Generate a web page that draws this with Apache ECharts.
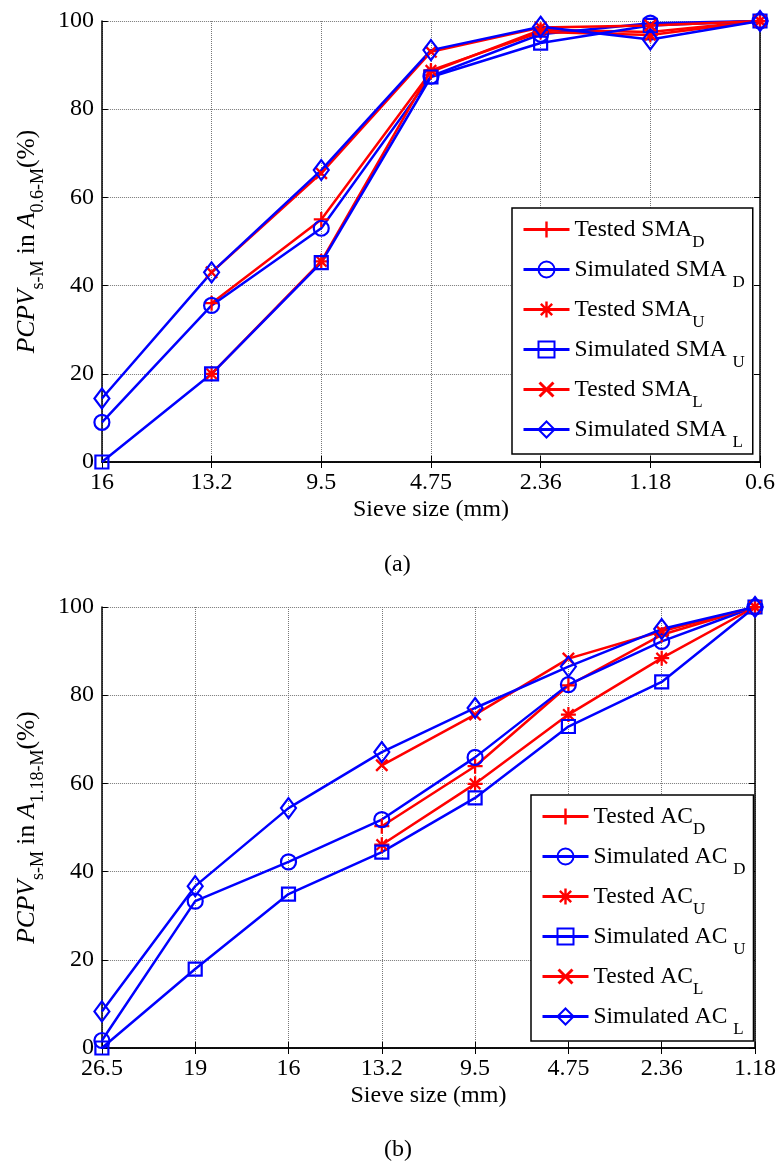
<!DOCTYPE html>
<html>
<head>
<meta charset="utf-8">
<script src="https://cdn.jsdelivr.net/npm/echarts@6/dist/echarts.min.js"></script>
<style>
  html, body { margin: 0; padding: 0; background: #fff; }
  #chart { width: 779px; height: 1165px; }
</style>
</head>
<body>
<div id="chart"></div>
<script>
// sieve sizes (x categories)
const sizesSMA = ['16', '13.2', '9.5', '4.75', '2.36', '1.18', '0.6'];
const sizesAC = ['26.5', '19', '16', '13.2', '9.5', '4.75', '2.36', '1.18'];
const yTicks = [0, 20, 40, 60, 80, 100];

// (a) SMA, PCPV in A0.6-M (%)
const smaTestedD = [null, 36, 55, 88.5, 98, 97.5, 100];
const smaSimD = [9, 35.5, 53, 87.5, 97, 99.5, 100];
const smaTestedU = [null, 20, 45.5, 88.8, 97.5, 96.8, 100];
const smaSimU = [0, 20, 45.2, 87.3, 95, 99, 100];
const smaTestedL = [null, 43, 65.5, 93, 98.5, 99, 100];
const smaSimL = [14.4, 43, 66.2, 93.4, 98.7, 95.8, 100];

// (b) AC, PCPV in A1.18-M (%)
const acTestedD = [null, null, null, 50.3, 63.9, 82.2, 93.7, 100];
const acSimD = [1.7, 33.3, 42.2, 51.8, 65.9, 82.4, 92.2, 100];
const acTestedU = [null, null, null, 46.1, 59.9, 75.6, 88.4, 100];
const acSimU = [0, 17.9, 34.9, 44.4, 56.7, 72.9, 83.0, 100];
const acTestedL = [null, null, null, 64.1, 75.6, 88.3, 94.5, 100];
const acSimL = [8.3, 36.7, 54.4, 67.1, 77.1, 86.5, 95.0, 100];

const FONT = '"Liberation Serif", "Times New Roman", serif';
const RED = '#ff0000';
const BLUE = '#0000ff';

// marker shapes (MATLAB style + * x)
const PLUS = 'path://M-1.5,-10L1.5,-10L1.5,10L-1.5,10ZM-10,-1.5L10,-1.5L10,1.5L-10,1.5Z';
const CROSS = 'path://M8.13,6.01L6.01,8.13L-8.13,-6.01L-6.01,-8.13ZM6.01,-8.13L8.13,-6.01L-6.01,8.13L-8.13,6.01Z';
const STAR = PLUS + 'M8.13,6.01L6.01,8.13L-8.13,-6.01L-6.01,-8.13ZM6.01,-8.13L8.13,-6.01L-6.01,8.13L-8.13,6.01Z';

const subStyle = { fontSize: 17, lineHeight: 10, padding: [26, 0, 0, 0], fontFamily: FONT, color: '#000' };
const mainStyle = { fontSize: 23.5, lineHeight: 20, fontFamily: FONT, color: '#000' };

function legendName(name) {
    const parts = name.split('_');
    const gap = parts[0].indexOf('Simulated') === 0 ? ' ' : '';
    return '{m|' + parts[0] + gap + '}{sub|' + parts[1] + '}';
}

// hollow markers: transparent fill, coloured border
function mkSeries(name, data, color, symbol, size, gi, hollow) {
    return {
        name: name,
        type: 'line',
        xAxisIndex: gi * 2,
        yAxisIndex: gi * 2,
        data: data,
        symbol: symbol,
        symbolSize: size,
        connectNulls: false,
        lineStyle: { color: color, width: 2.5 },
        itemStyle: hollow
            ? { color: 'rgba(0,0,0,0)', borderColor: color, borderWidth: 2.2 }
            : { color: color },
        emphasis: { disabled: true },
        animation: false
    };
}

function xAxes(cats, gi) {
    const base = {
        type: 'category',
        gridIndex: gi,
        data: cats,
        boundaryGap: false,
        axisLine: { lineStyle: { color: '#000', width: 1.5 } },
        axisTick: { inside: true, length: 6, lineStyle: { color: '#000' } }
    };
    return [
        Object.assign({}, base, {
            position: 'bottom',
            axisLabel: { color: '#000', fontFamily: FONT, fontSize: 24, margin: 9 },
            splitLine: { show: true, lineStyle: { color: '#777', type: 'dotted', width: 1 } },
            name: 'Sieve size (mm)',
            nameLocation: 'middle',
            nameGap: 36,
            nameTextStyle: { color: '#000', fontFamily: FONT, fontSize: 24 }
        }),
        Object.assign({}, base, {
            position: 'top',
            axisLabel: { show: false },
            splitLine: { show: false }
        })
    ];
}

function yAxes(label, gi) {
    const base = {
        type: 'value',
        gridIndex: gi,
        min: yTicks[0],
        max: yTicks[yTicks.length - 1],
        interval: 20,
        axisLine: { show: true, lineStyle: { color: '#000', width: 1.5 } },
        axisTick: { show: true, inside: true, length: 6, lineStyle: { color: '#000' } }
    };
    return [
        Object.assign({}, base, {
            position: 'left',
            axisLabel: { color: '#000', fontFamily: FONT, fontSize: 24, margin: 8 },
            splitLine: { show: true, lineStyle: { color: '#777', type: 'dotted', width: 1 } },
            name: '{i|PCPV}{s|s-M}{m| in }{i|A}{s|' + label + '}{m|(%)}',
            nameLocation: 'middle',
            nameGap: 59,
            nameTextStyle: {
                color: '#000',
                rich: {
                    i: { fontSize: 25.5, fontStyle: 'italic', lineHeight: 20, fontFamily: FONT, color: '#000' },
                    m: { fontSize: 25.5, lineHeight: 20, fontFamily: FONT, color: '#000' },
                    s: { fontSize: 18, lineHeight: 12, padding: [21, 0, 0, 0], fontFamily: FONT, color: '#000' }
                }
            }
        }),
        Object.assign({}, base, {
            position: 'right',
            axisLabel: { show: false },
            splitLine: { show: false }
        })
    ];
}

function legendFor(names, left, top) {
    return {
        data: names,
        orient: 'vertical',
        left: left,
        top: top,
        itemWidth: 46,
        itemHeight: 20,
        itemGap: -3,
        padding: [0, 8, 3, 10],
        backgroundColor: '#fff',
        borderColor: '#000',
        borderWidth: 1.5,
        lineStyle: { width: 3 },
        formatter: legendName,
        textStyle: { rich: { m: mainStyle, sub: subStyle } }
    };
}

const smaNames = ['Tested SMA_D', 'Simulated SMA_D', 'Tested SMA_U', 'Simulated SMA_U', 'Tested SMA_L', 'Simulated SMA_L'];
const acNames = ['Tested AC_D', 'Simulated AC_D', 'Tested AC_U', 'Simulated AC_U', 'Tested AC_L', 'Simulated AC_L'];

const option = {
    backgroundColor: '#fff',
    animation: false,
    grid: [
        { left: 101, top: 21, width: 659, height: 441 },
        { left: 101, top: 607, width: 659, height: 441 }
    ],
    xAxis: xAxes(sizesSMA, 0).concat(xAxes(sizesAC, 1)),
    yAxis: yAxes('0.6-M', 0).concat(yAxes('1.18-M', 1)),
    legend: [legendFor(smaNames, 512, 208), legendFor(acNames, 531, 795)],
    graphic: [
        { type: 'text', left: 384, top: 553, style: { text: '(a)', font: '24px ' + FONT, fill: '#000' } },
        { type: 'text', left: 384, top: 1138, style: { text: '(b)', font: '24px ' + FONT, fill: '#000' } }
    ],
    series: [
        mkSeries(smaNames[0], smaTestedD, RED, PLUS, 15, 0, false),
        mkSeries(smaNames[1], smaSimD, BLUE, 'circle', 15, 0, true),
        mkSeries(smaNames[2], smaTestedU, RED, STAR, 15, 0, false),
        mkSeries(smaNames[3], smaSimU, BLUE, 'rect', 13, 0, true),
        mkSeries(smaNames[4], smaTestedL, RED, CROSS, 13, 0, false),
        mkSeries(smaNames[5], smaSimL, BLUE, 'diamond', [15, 20], 0, true),
        mkSeries(acNames[0], acTestedD, RED, PLUS, 15, 1, false),
        mkSeries(acNames[1], acSimD, BLUE, 'circle', 15, 1, true),
        mkSeries(acNames[2], acTestedU, RED, STAR, 15, 1, false),
        mkSeries(acNames[3], acSimU, BLUE, 'rect', 13, 1, true),
        mkSeries(acNames[4], acTestedL, RED, CROSS, 13, 1, false),
        mkSeries(acNames[5], acSimL, BLUE, 'diamond', [15, 20], 1, true)
    ]
};

const myChart = echarts.init(document.getElementById('chart'));
myChart.setOption(option);
window.addEventListener('resize', function () {
    myChart.resize();
});
</script>
</body>
</html>
